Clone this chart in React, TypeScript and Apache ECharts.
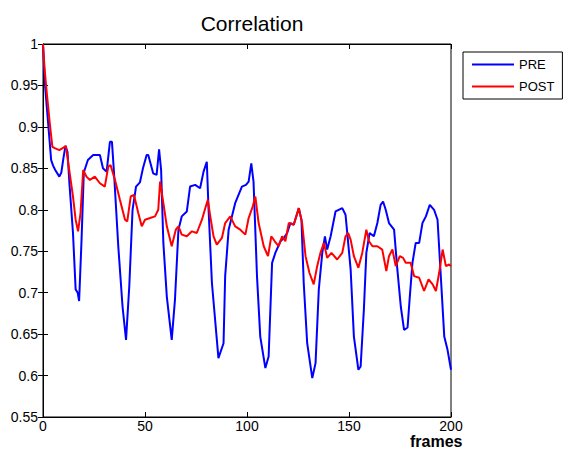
import React, { useEffect, useRef } from "react";
import * as echarts from "echarts";

const titleText = "Correlation";
const xLabel = "frames";
const seriesNames = ["PRE", "POST"];

const preFrames = [0, 1, 2, 3, 4, 5, 6, 8, 9, 10, 11, 12, 13, 14.7, 16, 17, 17.7, 18.9, 20, 22, 24.6, 27.9, 29.4, 31.2, 32.8, 33.8, 34.8, 36.9, 39, 40.7, 42.3, 43.9, 45.6, 47.5, 49, 50.8, 51.6, 54, 55.7, 56.9, 57.9, 59, 60.7, 63.1, 64.7, 66.4, 68, 70.5, 72.1, 74.6, 77, 78.7, 80.3, 81.1, 82.8, 86, 88.5, 89.3, 91, 94.2, 97.5, 99.5, 100.8, 102.1, 103.2, 104.9, 106.5, 109, 110.6, 112.3, 113.9, 116.4, 118, 119.7, 121.3, 122.9, 125.4, 126.7, 127.8, 129.5, 132, 133.6, 135.2, 136.9, 138.2, 139.3, 141, 143.4, 146.7, 148.3, 149.6, 150.8, 152.4, 154.6, 155.7, 157.3, 158.5, 160.1, 162.2, 163.9, 165.5, 166.7, 168, 169.6, 172.1, 173.7, 175.4, 177, 178.7, 179.8, 181.1, 182.7, 184.4, 186, 187.7, 189.6, 191.7, 193.4, 195, 196.7, 198.3, 200];
const preValues = [1.0, 0.95, 0.92, 0.89, 0.86, 0.853, 0.848, 0.84, 0.845, 0.862, 0.877, 0.87, 0.83, 0.772, 0.704, 0.7, 0.69, 0.764, 0.845, 0.86, 0.866, 0.866, 0.85, 0.846, 0.882, 0.882, 0.845, 0.756, 0.683, 0.643, 0.708, 0.8, 0.828, 0.833, 0.85, 0.866, 0.866, 0.844, 0.842, 0.873, 0.848, 0.76, 0.695, 0.643, 0.692, 0.776, 0.792, 0.798, 0.828, 0.83, 0.826, 0.846, 0.858, 0.804, 0.712, 0.621, 0.639, 0.72, 0.776, 0.808, 0.828, 0.83, 0.834, 0.856, 0.834, 0.72, 0.647, 0.609, 0.623, 0.736, 0.748, 0.762, 0.766, 0.772, 0.784, 0.782, 0.802, 0.788, 0.712, 0.639, 0.597, 0.615, 0.704, 0.748, 0.768, 0.752, 0.768, 0.798, 0.802, 0.794, 0.76, 0.728, 0.647, 0.607, 0.611, 0.68, 0.748, 0.772, 0.768, 0.784, 0.806, 0.81, 0.8, 0.784, 0.776, 0.728, 0.683, 0.655, 0.658, 0.695, 0.736, 0.76, 0.76, 0.784, 0.792, 0.806, 0.8, 0.788, 0.72, 0.647, 0.631, 0.607];

const postFrames = [0, 0.8, 2, 3.3, 4.6, 6, 8, 10, 11.2, 13.1, 14.7, 16, 17.2, 18.4, 19.7, 21.3, 23, 25.4, 27.9, 30.3, 32, 33.1, 35.3, 37.7, 40.2, 41.3, 43, 44.6, 46.7, 48.4, 50, 52.5, 54.9, 56.5, 57.4, 59, 60.7, 63.1, 65.1, 66.4, 68, 70.5, 73, 75.4, 77.9, 79.8, 80.8, 82, 83.6, 85.2, 87.7, 89.3, 91.8, 94.2, 96.7, 99.2, 100.8, 102.8, 104.1, 105.7, 108.2, 110.3, 111.9, 113.6, 115.5, 117.2, 118.8, 120.5, 122.9, 125.4, 127, 128.7, 130.6, 132.7, 134.4, 136, 137.7, 139.3, 141.4, 144.2, 146.7, 148.3, 149.6, 150.8, 152.4, 154.6, 156.5, 158.5, 159.8, 161.5, 163.9, 166.3, 168.3, 169.6, 171.3, 172.9, 174.9, 176.5, 177.8, 180.2, 181.9, 184.4, 186.8, 189, 191, 192.6, 194.2, 195.9, 197.5, 199.1, 200];
const postValues = [1.0, 0.969, 0.937, 0.905, 0.876, 0.874, 0.872, 0.875, 0.877, 0.844, 0.816, 0.788, 0.774, 0.796, 0.848, 0.84, 0.836, 0.84, 0.832, 0.828, 0.852, 0.854, 0.836, 0.812, 0.788, 0.786, 0.816, 0.818, 0.796, 0.78, 0.788, 0.79, 0.792, 0.8, 0.834, 0.808, 0.78, 0.756, 0.776, 0.78, 0.77, 0.768, 0.774, 0.772, 0.788, 0.804, 0.812, 0.792, 0.768, 0.758, 0.766, 0.784, 0.792, 0.78, 0.776, 0.77, 0.79, 0.804, 0.816, 0.784, 0.756, 0.744, 0.768, 0.762, 0.756, 0.768, 0.762, 0.784, 0.782, 0.802, 0.784, 0.744, 0.724, 0.71, 0.732, 0.748, 0.76, 0.742, 0.748, 0.74, 0.748, 0.768, 0.772, 0.764, 0.744, 0.73, 0.748, 0.776, 0.762, 0.756, 0.756, 0.752, 0.726, 0.744, 0.752, 0.732, 0.744, 0.742, 0.736, 0.736, 0.72, 0.718, 0.702, 0.716, 0.71, 0.702, 0.724, 0.752, 0.732, 0.734, 0.732];

const xMin = 0;
const xMax = 200;
const xInterval = 50;
const yMin = 0.55;
const yMax = 1;
const yInterval = 0.05;

const FONT = "Arial, 'Liberation Sans', Helvetica, sans-serif";

export default function App() {
  const ref = useRef<HTMLDivElement>(null);

  useEffect(() => {
    if (!ref.current) return;
    const chart = echarts.init(ref.current, undefined, { renderer: "svg" });
    const pre = preFrames.map((f, i) => [f, preValues[i]]);
    const post = postFrames.map((f, i) => [f, postValues[i]]);
    const tick = { show: true, inside: true, length: 5, lineStyle: { color: "#000", width: 1 } };
    const line = { show: true, lineStyle: { color: "#000", width: 1 } };
    const option: any = {
      animation: false,
      backgroundColor: "#fff",
      title: {
        text: titleText,
        left: 247,
        top: 8,
        textAlign: "center",
        textStyle: { fontFamily: FONT, fontSize: 21, fontWeight: "normal", color: "#000" },
      },
      legend: {
        orient: "vertical",
        left: 463,
        top: 52,
        data: seriesNames,
        icon: "rect",
        itemWidth: 42,
        itemHeight: 2,
        itemGap: 9,
        padding: [6, 8, 6, 9],
        borderColor: "#000",
        borderWidth: 1,
        textStyle: { fontFamily: FONT, fontSize: 13, color: "#000" },
      },
      grid: {
        left: 43,
        right: 115,
        top: 44,
        bottom: 34,
        show: true,
        borderColor: "#000",
        borderWidth: 1,
        backgroundColor: "#fff",
      },
      xAxis: [
        {
          type: "value",
          min: xMin,
          max: xMax,
          interval: xInterval,
          position: "bottom",
          axisLine: line,
          axisTick: tick,
          splitLine: { show: false },
          axisLabel: { fontFamily: FONT, fontSize: 14, color: "#000", margin: 2 },
        },
        {
          type: "value",
          min: xMin,
          max: xMax,
          interval: xInterval,
          position: "top",
          axisLine: line,
          axisTick: tick,
          splitLine: { show: false },
          axisLabel: { show: false },
        },
      ],
      yAxis: [
        {
          type: "value",
          min: yMin,
          max: yMax,
          interval: yInterval,
          position: "left",
          axisLine: line,
          axisTick: tick,
          splitLine: { show: false },
          axisLabel: { fontFamily: FONT, fontSize: 14, color: "#000", margin: 5 },
        },
        {
          type: "value",
          min: yMin,
          max: yMax,
          interval: yInterval,
          position: "right",
          axisLine: line,
          axisTick: tick,
          splitLine: { show: false },
          axisLabel: { show: false },
        },
      ],
      graphic: [
        {
          type: "text",
          left: 410,
          top: 433,
          style: { text: xLabel, font: "bold 16px " + FONT, fill: "#000" },
        },
      ],
      series: [
        {
          name: seriesNames[0],
          type: "line",
          data: pre,
          showSymbol: false,
          symbol: "none",
          lineStyle: { color: "#0000ff", width: 2 },
          itemStyle: { color: "#0000ff" },
          z: 2,
        },
        {
          name: seriesNames[1],
          type: "line",
          data: post,
          showSymbol: false,
          symbol: "none",
          lineStyle: { color: "#ff0000", width: 2 },
          itemStyle: { color: "#ff0000" },
          z: 3,
        },
      ],
    };
    chart.setOption(option);
    return () => chart.dispose();
  }, []);

  return (
    <div
      ref={ref}
      style={{ position: "fixed", left: 0, top: 0, width: 566, height: 451, background: "#fff" }}
    />
  );
}
